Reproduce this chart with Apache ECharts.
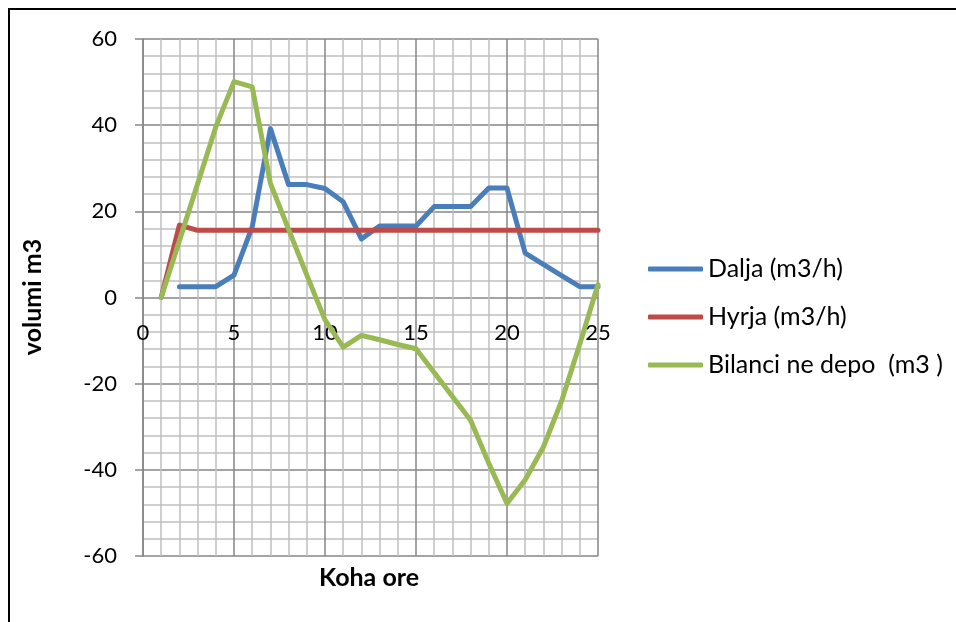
<!DOCTYPE html>
<html>
<head>
<meta charset="utf-8">
<script src="https://cdn.jsdelivr.net/npm/echarts@6/dist/echarts.min.js"></script>
<style>
html,body{margin:0;padding:0;background:#fff;}
#chart{width:956px;height:622px;}
</style>
</head>
<body>
<div id="chart"></div>
<script>
// Data (hours 1..25)
const hours = [1,2,3,4,5,6,7,8,9,10,11,12,13,14,15,16,17,18,19,20,21,22,23,24,25];
const dalja = [null,2.5,2.5,2.5,5.2,16.4,39.2,26.2,26.2,25.3,22.2,13.6,16.6,16.6,16.6,21.1,21.1,21.1,25.4,25.4,10.3,7.7,5.1,2.5,2.5];
const hyrja = [0,16.8,15.6,15.6,15.6,15.6,15.6,15.6,15.6,15.6,15.6,15.6,15.6,15.6,15.6,15.6,15.6,15.6,15.6,15.6,15.6,15.6,15.6,15.6,15.6];
const bilanci = [0,13.2,26.4,39.6,50.1,48.9,26.5,15.8,5.2,-5.2,-11.5,-8.8,-9.8,-10.9,-11.9,-17.4,-23,-28.5,-38.5,-47.8,-42.3,-34.7,-24,-10.8,3];
const seriesNames = ['Dalja (m3/h)', 'Hyrja (m3/h)', 'Bilanci ne depo  (m3 )'];
const xTitle = 'Koha ore';
const yTitle = 'volumi m3';

const pairs = arr => hours.map((h,i)=>[h,arr[i]]).filter(p=>p[1]!==null);

const FONT = 'Lato';
const GRID = {left:143, right:358, top:39, bottom:66};
const plotH = 622 - GRID.top - GRID.bottom;
const chart = echarts.init(document.getElementById('chart'), null, {renderer:'canvas'});
const lineS = (name, arr, color) => ({
  name, type:'line', data: pairs(arr), showSymbol:false, symbol:'none',
  lineStyle:{color, width:5, cap:'round', join:'round'},
  itemStyle:{color}, animation:false
});
chart.setOption({
  animation:false,
  backgroundColor:'#ffffff',
  grid:Object.assign({containLabel:false}, GRID),
  xAxis:{
    type:'value', min:0, max:25, interval:5,
    position:'bottom',
    offset: -plotH/2,   // axis crosses at y = 0 (middle of -60..60)
    axisLine:{show:false, onZero:false},
    axisTick:{show:false},
    axisLabel:{color:'#000', fontFamily:FONT, fontSize:22, margin:24},
    splitLine:{show:true, lineStyle:{color:'#868686', width:1.5}},
    minorTick:{show:false, splitNumber:5},
    minorSplitLine:{show:true, lineStyle:{color:'#c0c0c0', width:1.5}}
  },
  yAxis:{
    type:'value', min:-60, max:60, interval:20,
    axisLine:{show:true, onZero:false, lineStyle:{color:'#868686', width:1.5}},
    axisTick:{show:true, inside:false, length:8, lineStyle:{color:'#868686', width:1.5}},
    axisLabel:{color:'#000', fontFamily:FONT, fontSize:22, margin:26},
    splitLine:{show:true, lineStyle:{color:'#868686', width:1.5}},
    minorTick:{show:false, splitNumber:5},
    minorSplitLine:{show:true, lineStyle:{color:'#c0c0c0', width:1.5}}
  },
  legend:{
    orient:'vertical', left:648, top:255, padding:0,
    itemWidth:55, itemHeight:5, itemGap:20,
    icon:'roundRect',
    textStyle:{color:'#000', fontFamily:FONT, fontSize:25, lineHeight:28},
    data: seriesNames
  },
  series:[
    lineS(seriesNames[0], dalja, '#4a7ebb'),
    lineS(seriesNames[1], hyrja, '#be4b48'),
    lineS(seriesNames[2], bilanci, '#98b954')
  ],
  graphic:[
    {type:'rect', shape:{x:9, y:9, width:1100, height:800}, style:{fill:'none', stroke:'#000', lineWidth:2}, silent:true, z:-10},
    {type:'text', x:33, y:297, rotation:Math.PI/2, style:{text:yTitle, font:'bold 25px '+FONT, fill:'#000', align:'center', verticalAlign:'middle'}},
    {type:'text', x:369, y:578, style:{text:xTitle, font:'bold 25px '+FONT, fill:'#000', align:'center', verticalAlign:'middle'}}
  ]
});
</script>
</body>
</html>
